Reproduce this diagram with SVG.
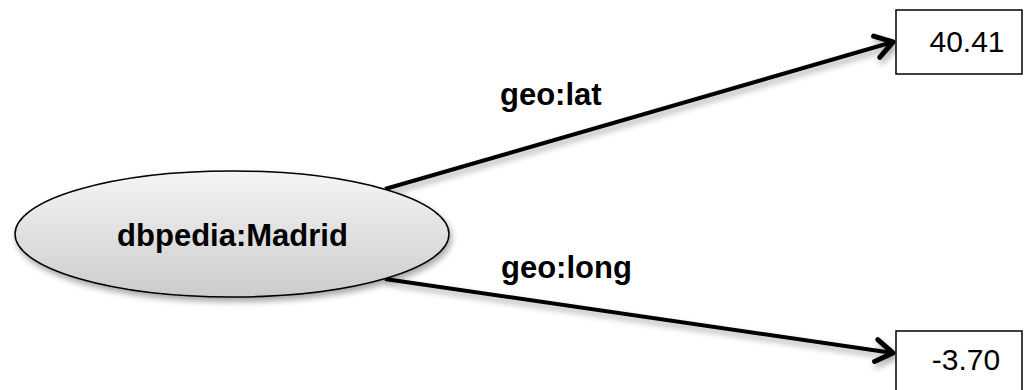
<svg xmlns="http://www.w3.org/2000/svg" width="1024" height="390" viewBox="0 0 1024 390">
<defs>
<linearGradient id="g" x1="0" y1="0" x2="0" y2="1">
<stop offset="0" stop-color="#f5f5f5"/>
<stop offset="1" stop-color="#cccccc"/>
</linearGradient>
<filter id="sh" x="-10%" y="-20%" width="130%" height="160%">
<feGaussianBlur in="SourceAlpha" stdDeviation="3"/>
<feOffset dx="2" dy="4"/>
<feComponentTransfer><feFuncA type="linear" slope="0.35"/></feComponentTransfer>
<feMerge><feMergeNode/><feMergeNode in="SourceGraphic"/></feMerge>
</filter>
<marker id="arr" viewBox="-24 -16 28 32" refX="0" refY="0" markerWidth="28" markerHeight="32" markerUnits="userSpaceOnUse" orient="auto">
<path d="M-17,-11 L0,0 L-17,11" fill="none" stroke="#000" stroke-width="5" stroke-linecap="round" stroke-linejoin="round"/>
</marker>
<style>
.t{font-family:"Liberation Sans",Arial,sans-serif;font-size:30px;fill:#000}
.b{font-weight:bold;font-size:31px}
.e{stroke:#000;stroke-width:4;fill:none}
.box{fill:#fff;stroke:#000;stroke-width:1.5}
</style>
</defs>
<g id="connectors">
<line class="e" x1="385" y1="189" x2="893" y2="42" marker-end="url(#arr)" filter="url(#sh)"/>
<line class="e" x1="385" y1="279" x2="893" y2="353" marker-end="url(#arr)" filter="url(#sh)"/>
<text class="t b" x="500" y="105">geo:lat</text>
<text class="t b" x="501" y="278">geo:long</text>
</g>
<g id="madrid">
<ellipse cx="232" cy="234" rx="217" ry="63" fill="url(#g)" stroke="#000" stroke-width="1.5" filter="url(#sh)"/>
<text class="t b" x="232.5" y="246" text-anchor="middle">dbpedia:Madrid</text>
</g>
<g id="lat">
<rect class="box" x="896" y="10" width="126" height="64"/>
<text class="t" x="967" y="52" text-anchor="middle">40.41</text>
</g>
<g id="long">
<rect class="box" x="896" y="331" width="126" height="70"/>
<text class="t" x="966" y="370" text-anchor="middle">-3.70</text>
</g>
</svg>
